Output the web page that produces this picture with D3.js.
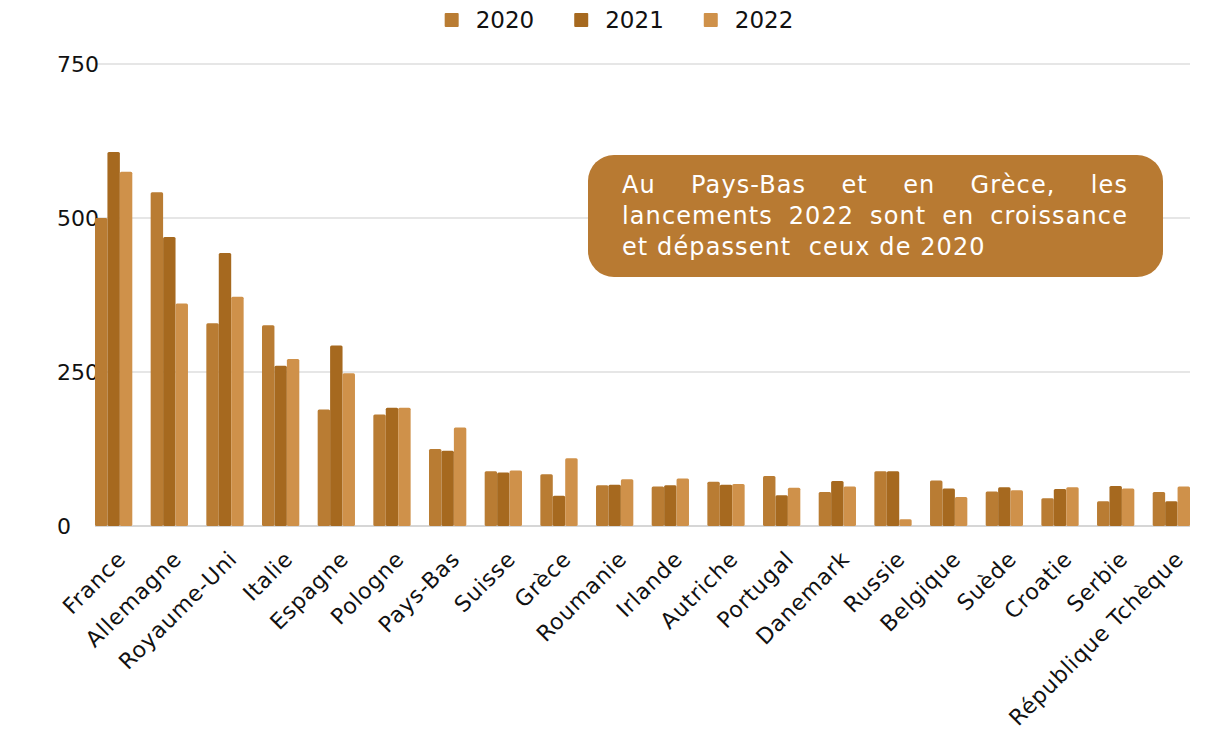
<!DOCTYPE html>
<html>
<head>
<meta charset="utf-8">
<script src="https://cdn.jsdelivr.net/npm/d3@7"></script>
<style>
  body { margin: 0; background: #fff; }
  svg text { font-family: "DejaVu Sans", "Open Sans", sans-serif; }
</style>
</head>
<body>
<script>
var width = 1214, height = 744;
var margin = {top: 64, right: 24, bottom: 218, left: 95};

var categories = ["France", "Allemagne", "Royaume-Uni", "Italie", "Espagne", "Pologne", "Pays-Bas",
                  "Suisse", "Grèce", "Roumanie", "Irlande", "Autriche", "Portugal", "Danemark",
                  "Russie", "Belgique", "Suède", "Croatie", "Serbie", "République Tchèque"];
var years = ["2020", "2021", "2022"];
var values2020 = [500, 542, 329, 326, 189, 181, 125, 89, 84, 66, 64, 72, 81, 55, 89, 74, 56, 45, 40, 55];
var values2021 = [607, 469, 443, 260, 293, 192, 122, 87, 49, 67, 66, 67, 50, 73, 89, 61, 63, 60, 65, 40];
var values2022 = [575, 361, 372, 271, 248, 192, 160, 90, 110, 76, 77, 68, 62, 64, 11, 47, 58, 63, 61, 64];
var yTicks = [0, 250, 500, 750];
var colors = ["#b97c33", "#a6691f", "#cf914a"];
var noteLines = ["Au Pays-Bas et en Grèce, les", "lancements 2022 sont en croissance", "et dépassent  ceux de 2020"];

var series = [values2020, values2021, values2022];
var w = width - margin.left - margin.right;
var h = height - margin.top - margin.bottom;

var svg = d3.select("body").append("svg")
    .attr("width", width)
    .attr("height", height);

var x0 = d3.scaleBand()
    .domain(categories)
    .range([margin.left, margin.left + w])
    .paddingInner(0.33)
    .paddingOuter(0);

var x1 = d3.scaleBand()
    .domain(years)
    .range([0, x0.bandwidth()]);

var y = d3.scaleLinear()
    .domain([0, 750])
    .range([margin.top + h, margin.top]);

// gridlines + y labels
svg.append("g").selectAll("line")
    .data(yTicks)
    .enter().append("line")
    .attr("x1", margin.left)
    .attr("x2", margin.left + w)
    .attr("y1", function(d) { return y(d); })
    .attr("y2", function(d) { return y(d); })
    .attr("stroke", function(d) { return d === 0 ? "#c8c8c8" : "#dedede"; })
    .attr("stroke-width", 1.3);

svg.append("g").selectAll("text")
    .data(yTicks)
    .enter().append("text")
    .attr("x", 57)
    .attr("y", function(d) { return y(d); })
    .attr("dy", "0.36em")
    .attr("font-size", 22)
    .attr("fill", "#111")
    .text(function(d) { return d; });

// bars
var groups = svg.append("g").selectAll("g")
    .data(categories)
    .enter().append("g")
    .attr("transform", function(d) { return "translate(" + x0(d) + ",0)"; });

groups.selectAll("rect")
    .data(function(d, i) {
        return years.map(function(yr, j) { return {year: yr, value: series[j][i], k: j}; });
    })
    .enter().append("rect")
    .attr("x", function(d) { return x1(d.year); })
    .attr("y", function(d) { return y(d.value); })
    .attr("width", x1.bandwidth())
    .attr("height", function(d) { return y(0) - y(d.value); })
    .attr("rx", 1.5)
    .attr("fill", function(d) { return colors[d.k]; });

// x labels
svg.append("g").selectAll("text")
    .data(categories)
    .enter().append("text")
    .attr("transform", function(d) {
        return "translate(" + (x0(d) + x0.bandwidth() / 2 + 1) + "," + (y(0) + 22) + ") rotate(-45)";
    })
    .attr("text-anchor", "end")
    .attr("dy", "0.8em")
    .attr("font-size", 22)
    .attr("letter-spacing", 0.8)
    .attr("fill", "#111")
    .text(function(d) { return d; });

// legend
var legend = svg.append("g");
var items = legend.selectAll("g")
    .data(years)
    .enter().append("g");
items.append("rect")
    .attr("width", 14).attr("height", 14)
    .attr("y", 13)
    .attr("rx", 1)
    .attr("fill", function(d, i) { return colors[i]; });
items.append("text")
    .attr("x", 31)
    .attr("y", 28)
    .attr("font-size", 23)
    .attr("fill", "#111")
    .text(function(d) { return d; });
var lx = 0;
items.each(function() {
    var g = d3.select(this);
    g.attr("transform", "translate(" + lx + ",0)");
    lx += 31 + g.select("text").node().getComputedTextLength() + 40;
});
lx -= 40;
legend.attr("transform", "translate(" + (619 - lx / 2) + ",0)");

// annotation box
var note = svg.append("g");
note.append("rect")
    .attr("x", 588).attr("y", 155)
    .attr("width", 575).attr("height", 122)
    .attr("rx", 26)
    .attr("fill", "#b87a32");

var textLeft = 622, textRight = 1128, lineY = [193, 224, 255];
var noteSize = 24, noteSpacing = 1.1;
noteLines.forEach(function(line, li) {
    if (li === noteLines.length - 1) {
        note.append("text")
            .attr("x", textLeft).attr("y", lineY[li])
            .attr("font-size", noteSize)
            .attr("letter-spacing", noteSpacing)
            .attr("fill", "#fff")
            .attr("xml:space", "preserve")
            .style("white-space", "pre")
            .text(line);
        return;
    }
    // justified line: place words one by one
    var words = line.split(" ");
    var nodes = words.map(function(wd) {
        return note.append("text")
            .attr("y", lineY[li])
            .attr("font-size", noteSize)
            .attr("letter-spacing", noteSpacing)
            .attr("fill", "#fff")
            .text(wd);
    });
    var widths = nodes.map(function(n) { return n.node().getComputedTextLength(); });
    var total = d3.sum(widths);
    var gap = Math.max(4, (textRight - textLeft - total) / (words.length - 1));
    var cx = textLeft;
    nodes.forEach(function(n, i) {
        n.attr("x", cx);
        cx += widths[i] + gap;
    });
});
</script>
</body>
</html>
